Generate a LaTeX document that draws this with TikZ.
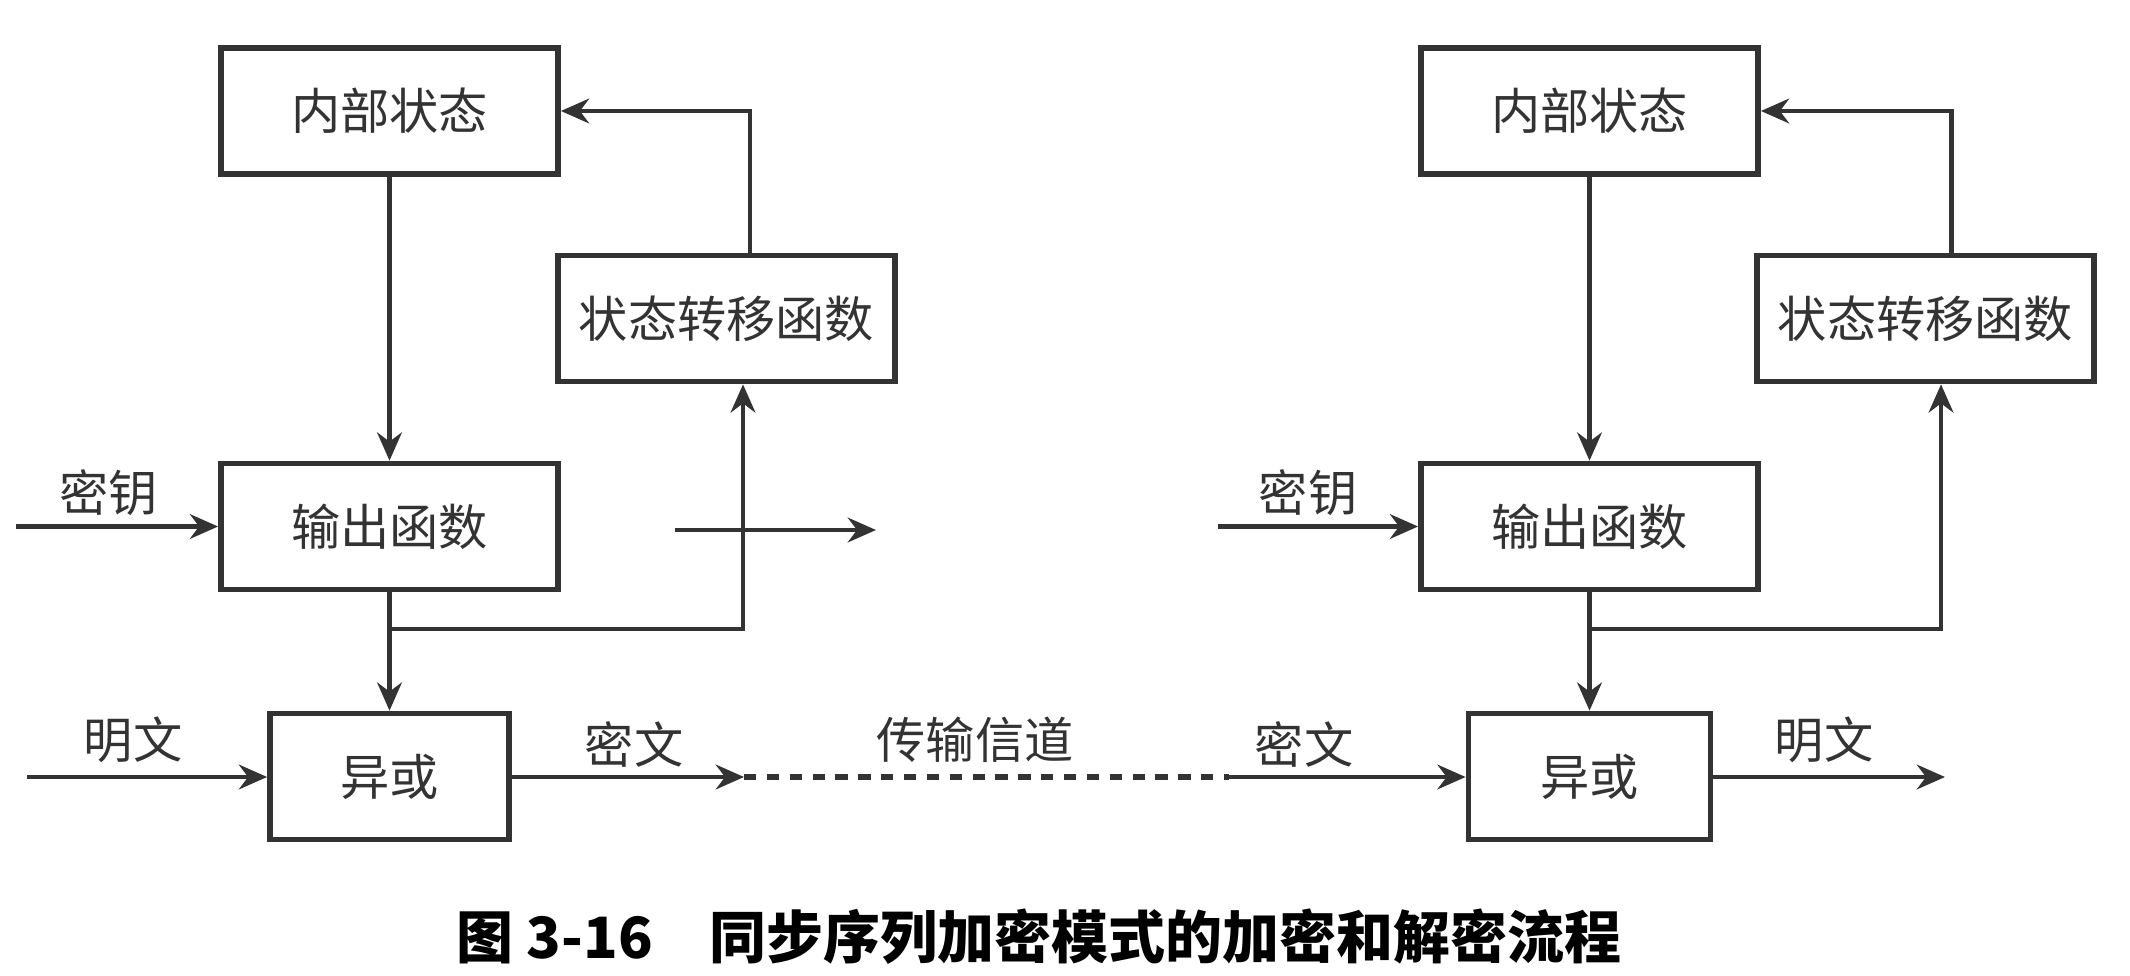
\documentclass[tikz,border=0pt]{standalone}
\usepackage{fontspec}
\usepackage{tikz}
\usetikzlibrary{arrows.meta,positioning}
\newfontfamily\cjk{Noto Sans CJK SC}
\definecolor{InkGray}{HTML}{333333}

\begin{document}
\begin{tikzpicture}[x=0.01cm,y=-0.01cm,>={Stealth[length=8pt,width=7pt]},
  box/.style={draw=InkGray,line width=1.6pt,minimum width=3.37cm,minimum height=1.26cm,
    inner sep=0pt,font=\cjk\fontsize{14}{16}\selectfont,text=InkGray},
  lab/.style={font=\cjk\fontsize{14}{16}\selectfont,text=InkGray,inner sep=0pt},
  arr/.style={->,draw=InkGray,line width=1.4pt}]
  \useasboundingbox (0,0) rectangle (2130,976);
  % encryption side
  \node[box] (st1) at (389.5,111) {内部状态};
  \node[box] (tf1) at (726.5,318.5) {状态转移函数};
  \node[box] (of1) at (389.5,526.5) {输出函数};
  \node[box,minimum width=2.39cm] (xr1) at (389.5,776.5) {异或};
  \coordinate (k1) at (16,526.5);
  \coordinate (j1) at (389.5,629);
  \coordinate (p1) at (27,777);
  \coordinate (c1) at (744,777);
  \coordinate (s1) at (675,530);
  \coordinate (s2) at (876,530);
  \draw[arr] (st1) -- (of1);
  \draw[arr] (of1) -- (xr1);
  \draw[arr] (j1) -| ([xshift=0.165cm]tf1.south);
  \draw[arr] ([xshift=0.235cm]tf1.north) |- (st1.east);
  \draw[arr] (k1) -- (of1.west);
  \draw[arr] (s1) -- (s2);
  \draw[arr] (p1) -- (xr1.west |- p1);
  \draw[arr] (xr1.east |- c1) -- (c1);
  \node[lab] (key1) at (109,493) {密钥};
  \node[lab] (pt1) at (133,740) {明文};
  \node[lab] (ct1) at (634,744) {密文};
  % channel
  \coordinate (c2) at (1229,777);
  \draw[InkGray,line width=1.6pt,dash pattern=on 3.5pt off 3pt] (c1) -- (c2);
  \node[lab] (ch) at (975,740) {传输信道};
  % decryption side
  \node[box] (st2) at (1589.5,111) {内部状态};
  \node[box] (tf2) at (1925.5,318.5) {状态转移函数};
  \node[box] (of2) at (1589.5,526.5) {输出函数};
  \node[box,minimum width=2.42cm] (xr2) at (1589.5,776.5) {异或};
  \coordinate (k2) at (1218,526.5);
  \coordinate (j2) at (1589.5,629);
  \coordinate (p2) at (1945,777);
  \draw[arr] (st2) -- (of2);
  \draw[arr] (of2) -- (xr2);
  \draw[arr] (j2) -| ([xshift=0.155cm]tf2.south);
  \draw[arr] ([xshift=0.255cm]tf2.north) |- (st2.east);
  \draw[arr] (k2) -- (of2.west);
  \draw[arr] (c2) -- (xr2.west |- c2);
  \draw[arr] (xr2.east |- p2) -- (p2);
  \node[lab] (key2) at (1308,493) {密钥};
  \node[lab] (ct2) at (1304,744) {密文};
  \node[lab] (pt2) at (1824,740) {明文};
  % caption
  \node[font=\cjk\bfseries\fontsize{16.2}{18}\selectfont,text=black] (cap) at (1039,937)
    {图 3-16\quad 同步序列加密模式的加密和解密流程};
\end{tikzpicture}
\end{document}
